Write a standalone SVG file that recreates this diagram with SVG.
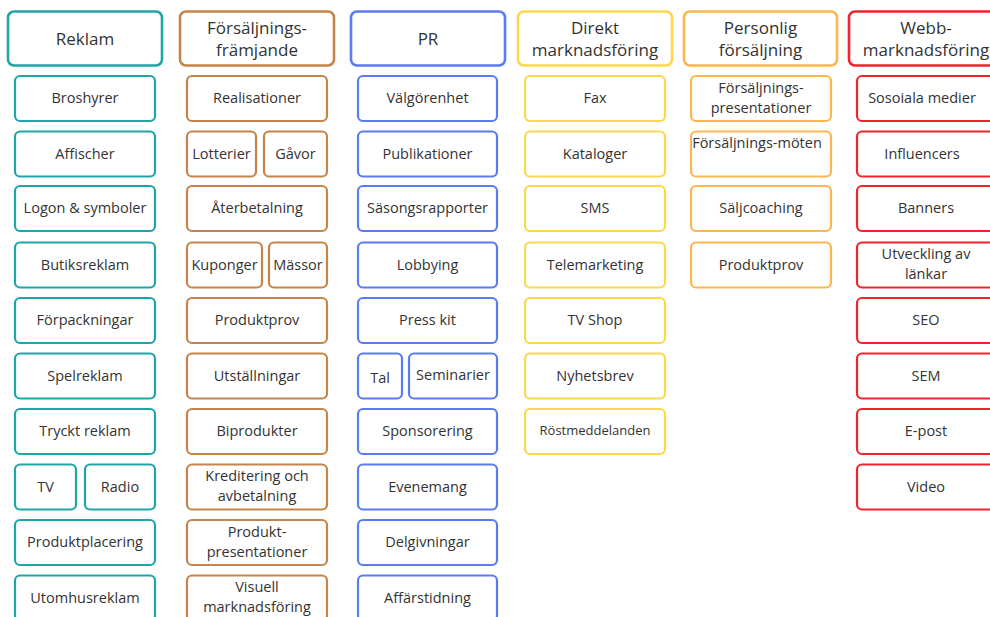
<svg xmlns="http://www.w3.org/2000/svg" width="990" height="617" viewBox="0 0 990 617">
<style>
rect{fill:#fff;stroke-width:2.2}
.h rect{stroke-width:2.6}
text{font-family:"Open Sans","Noto Sans",sans-serif;fill:#333;text-anchor:middle;dominant-baseline:central;font-size:14.5px}
.h text{font-size:17px}
.teal rect{stroke:#1ea5a8}
.brown rect{stroke:#c4844a}
.blue rect{stroke:#5b7bf3}
.yellow rect{stroke:#fcd84e}
.orange rect{stroke:#fdb64e}
.red rect{stroke:#f2232b}
.sm{font-size:13px}
</style>
<rect x="0" y="0" width="990" height="617" style="fill:#fff;stroke:none"/>
<g id="connectors"></g>

<!-- Reklam -->
<g class="teal">
<g id="h-reklam" class="h"><rect x="8" y="11.5" width="154" height="54" rx="6"/><text x="85" y="38.5">Reklam</text></g>
<g id="broshyrer"><rect x="15" y="76" width="140" height="45" rx="5"/><text x="85" y="97.5">Broshyrer</text></g>
<g id="affischer"><rect x="15" y="131.5" width="140" height="45" rx="5"/><text x="85" y="153">Affischer</text></g>
<g id="logon"><rect x="15" y="186" width="140" height="45" rx="5"/><text x="85" y="207.5">Logon &amp; symboler</text></g>
<g id="butiksreklam"><rect x="15" y="242.5" width="140" height="45" rx="5"/><text x="85" y="264">Butiksreklam</text></g>
<g id="forpackningar"><rect x="15" y="298" width="140" height="45" rx="5"/><text x="85" y="319.5">Förpackningar</text></g>
<g id="spelreklam"><rect x="15" y="353.5" width="140" height="45" rx="5"/><text x="85" y="375">Spelreklam</text></g>
<g id="tryckt"><rect x="15" y="409" width="140" height="45" rx="5"/><text x="85" y="430.5">Tryckt reklam</text></g>
<g id="tv"><rect x="15" y="464.5" width="61" height="45" rx="5"/><text x="45.5" y="486">TV</text></g>
<g id="radio"><rect x="85" y="464.5" width="70" height="45" rx="5"/><text x="120" y="486">Radio</text></g>
<g id="produktplacering"><rect x="15" y="520" width="140" height="45" rx="5"/><text x="85" y="541.5">Produktplacering</text></g>
<g id="utomhusreklam"><rect x="15" y="575.5" width="140" height="45" rx="5"/><text x="85" y="597">Utomhusreklam</text></g>
</g>

<!-- Försäljningsfrämjande -->
<g class="brown">
<g id="h-forsaljningsframjande" class="h"><rect x="180" y="11.5" width="154" height="54" rx="6"/><text x="257" y="27">Försäljnings-</text><text x="257" y="49.5">främjande</text></g>
<g id="realisationer"><rect x="187" y="76" width="140" height="45" rx="5"/><text x="257" y="97.5">Realisationer</text></g>
<g id="lotterier"><rect x="187" y="131.5" width="69" height="45" rx="5"/><text x="221.5" y="153">Lotterier</text></g>
<g id="gavor"><rect x="264" y="131.5" width="63" height="45" rx="5"/><text x="295.5" y="153">Gåvor</text></g>
<g id="aterbetalning"><rect x="187" y="186" width="140" height="45" rx="5"/><text x="257" y="207.5">Återbetalning</text></g>
<g id="kuponger"><rect x="187" y="242.5" width="75" height="45" rx="5"/><text x="224.5" y="264">Kuponger</text></g>
<g id="massor"><rect x="269" y="242.5" width="58" height="45" rx="5"/><text x="298" y="264">Mässor</text></g>
<g id="produktprov1"><rect x="187" y="298" width="140" height="45" rx="5"/><text x="257" y="319.5">Produktprov</text></g>
<g id="utstallningar"><rect x="187" y="353.5" width="140" height="45" rx="5"/><text x="257" y="375">Utställningar</text></g>
<g id="biprodukter"><rect x="187" y="409" width="140" height="45" rx="5"/><text x="257" y="430.5">Biprodukter</text></g>
<g id="kreditering"><rect x="187" y="464.5" width="140" height="45" rx="5"/><text x="257" y="475.5">Kreditering och</text><text x="257" y="495.5">avbetalning</text></g>
<g id="produktpresentationer"><rect x="187" y="520" width="140" height="45" rx="5"/><text x="257" y="531">Produkt-</text><text x="257" y="551">presentationer</text></g>
<g id="visuell"><rect x="187" y="575.5" width="140" height="45" rx="5"/><text x="257" y="586.5">Visuell</text><text x="257" y="606.5">marknadsföring</text></g>
</g>

<!-- PR -->
<g class="blue">
<g id="h-pr" class="h"><rect x="351" y="11.5" width="154" height="54" rx="6"/><text x="428" y="38.5">PR</text></g>
<g id="valgorenhet"><rect x="358" y="76" width="139" height="45" rx="5"/><text x="427.5" y="97.5">Välgörenhet</text></g>
<g id="publikationer"><rect x="358" y="131.5" width="139" height="45" rx="5"/><text x="427.5" y="153">Publikationer</text></g>
<g id="sasongsrapporter"><rect x="358" y="186" width="139" height="45" rx="5"/><text x="427.5" y="207.5">Säsongsrapporter</text></g>
<g id="lobbying"><rect x="358" y="242.5" width="139" height="45" rx="5"/><text x="427.5" y="264">Lobbying</text></g>
<g id="presskit"><rect x="358" y="298" width="139" height="45" rx="5"/><text x="427.5" y="319.5">Press kit</text></g>
<g id="tal"><rect x="358" y="353.5" width="44" height="45" rx="5"/><text x="380" y="377">Tal</text></g>
<g id="seminarier"><rect x="409" y="353.5" width="88" height="45" rx="5"/><text x="453" y="374">Seminarier</text></g>
<g id="sponsorering"><rect x="358" y="409" width="139" height="45" rx="5"/><text x="427.5" y="430.5">Sponsorering</text></g>
<g id="evenemang"><rect x="358" y="464.5" width="139" height="45" rx="5"/><text x="427.5" y="486">Evenemang</text></g>
<g id="delgivningar"><rect x="358" y="520" width="139" height="45" rx="5"/><text x="427.5" y="541.5">Delgivningar</text></g>
<g id="affarstidning"><rect x="358" y="575.5" width="139" height="45" rx="5"/><text x="427.5" y="597">Affärstidning</text></g>
</g>

<!-- Direkt marknadsföring -->
<g class="yellow">
<g id="h-direkt" class="h"><rect x="518" y="11.5" width="154" height="54" rx="6"/><text x="595" y="27">Direkt</text><text x="595" y="49.5">marknadsföring</text></g>
<g id="fax"><rect x="525" y="76" width="140" height="45" rx="5"/><text x="595" y="97.5">Fax</text></g>
<g id="kataloger"><rect x="525" y="131.5" width="140" height="45" rx="5"/><text x="595" y="153">Kataloger</text></g>
<g id="sms"><rect x="525" y="186" width="140" height="45" rx="5"/><text x="595" y="207.5">SMS</text></g>
<g id="telemarketing"><rect x="525" y="242.5" width="140" height="45" rx="5"/><text x="595" y="264">Telemarketing</text></g>
<g id="tvshop"><rect x="525" y="298" width="140" height="45" rx="5"/><text x="595" y="319.5">TV Shop</text></g>
<g id="nyhetsbrev"><rect x="525" y="353.5" width="140" height="45" rx="5"/><text x="595" y="375">Nyhetsbrev</text></g>
<g id="rostmeddelanden"><rect x="525" y="409" width="140" height="45" rx="5"/><text class="sm" x="595" y="429.5">Röstmeddelanden</text></g>
</g>

<!-- Personlig försäljning -->
<g class="orange">
<g id="h-personlig" class="h"><rect x="684" y="11.5" width="153" height="54" rx="6"/><text x="760.5" y="27">Personlig</text><text x="760.5" y="49.5">försäljning</text></g>
<g id="forsaljningspresentationer"><rect x="691" y="76" width="140" height="45" rx="5"/><text x="761" y="87">Försäljnings-</text><text x="761" y="107">presentationer</text></g>
<g id="forsaljningsmoten"><rect x="691" y="131.5" width="140" height="45" rx="5"/><text x="757" y="142">Försäljnings-möten</text></g>
<g id="saljcoaching"><rect x="691" y="186" width="140" height="45" rx="5"/><text x="761" y="207.5">Säljcoaching</text></g>
<g id="produktprov2"><rect x="691" y="242.5" width="140" height="45" rx="5"/><text x="761" y="264">Produktprov</text></g>
</g>

<!-- Webbmarknadsföring -->
<g class="red">
<g id="h-webb" class="h"><rect x="849" y="11.5" width="154" height="54" rx="6"/><text x="926" y="27">Webb-</text><text x="926" y="49.5">marknadsföring</text></g>
<g id="sociala"><rect x="857" y="76" width="140" height="45" rx="5"/><text x="922" y="97.5">Sosoiala medier</text></g>
<g id="influencers"><rect x="857" y="131.5" width="140" height="45" rx="5"/><text x="922" y="153">Influencers</text></g>
<g id="banners"><rect x="857" y="186" width="140" height="45" rx="5"/><text x="926" y="207.5">Banners</text></g>
<g id="utveckling"><rect x="857" y="242.5" width="140" height="45" rx="5"/><text x="926" y="253.5">Utveckling av</text><text x="926" y="273.5">länkar</text></g>
<g id="seo"><rect x="857" y="298" width="140" height="45" rx="5"/><text x="926" y="319.5">SEO</text></g>
<g id="sem"><rect x="857" y="353.5" width="140" height="45" rx="5"/><text x="926" y="375">SEM</text></g>
<g id="epost"><rect x="857" y="409" width="140" height="45" rx="5"/><text x="926" y="430.5">E-post</text></g>
<g id="video"><rect x="857" y="464.5" width="140" height="45" rx="5"/><text x="926" y="486">Video</text></g>
</g>
</svg>
